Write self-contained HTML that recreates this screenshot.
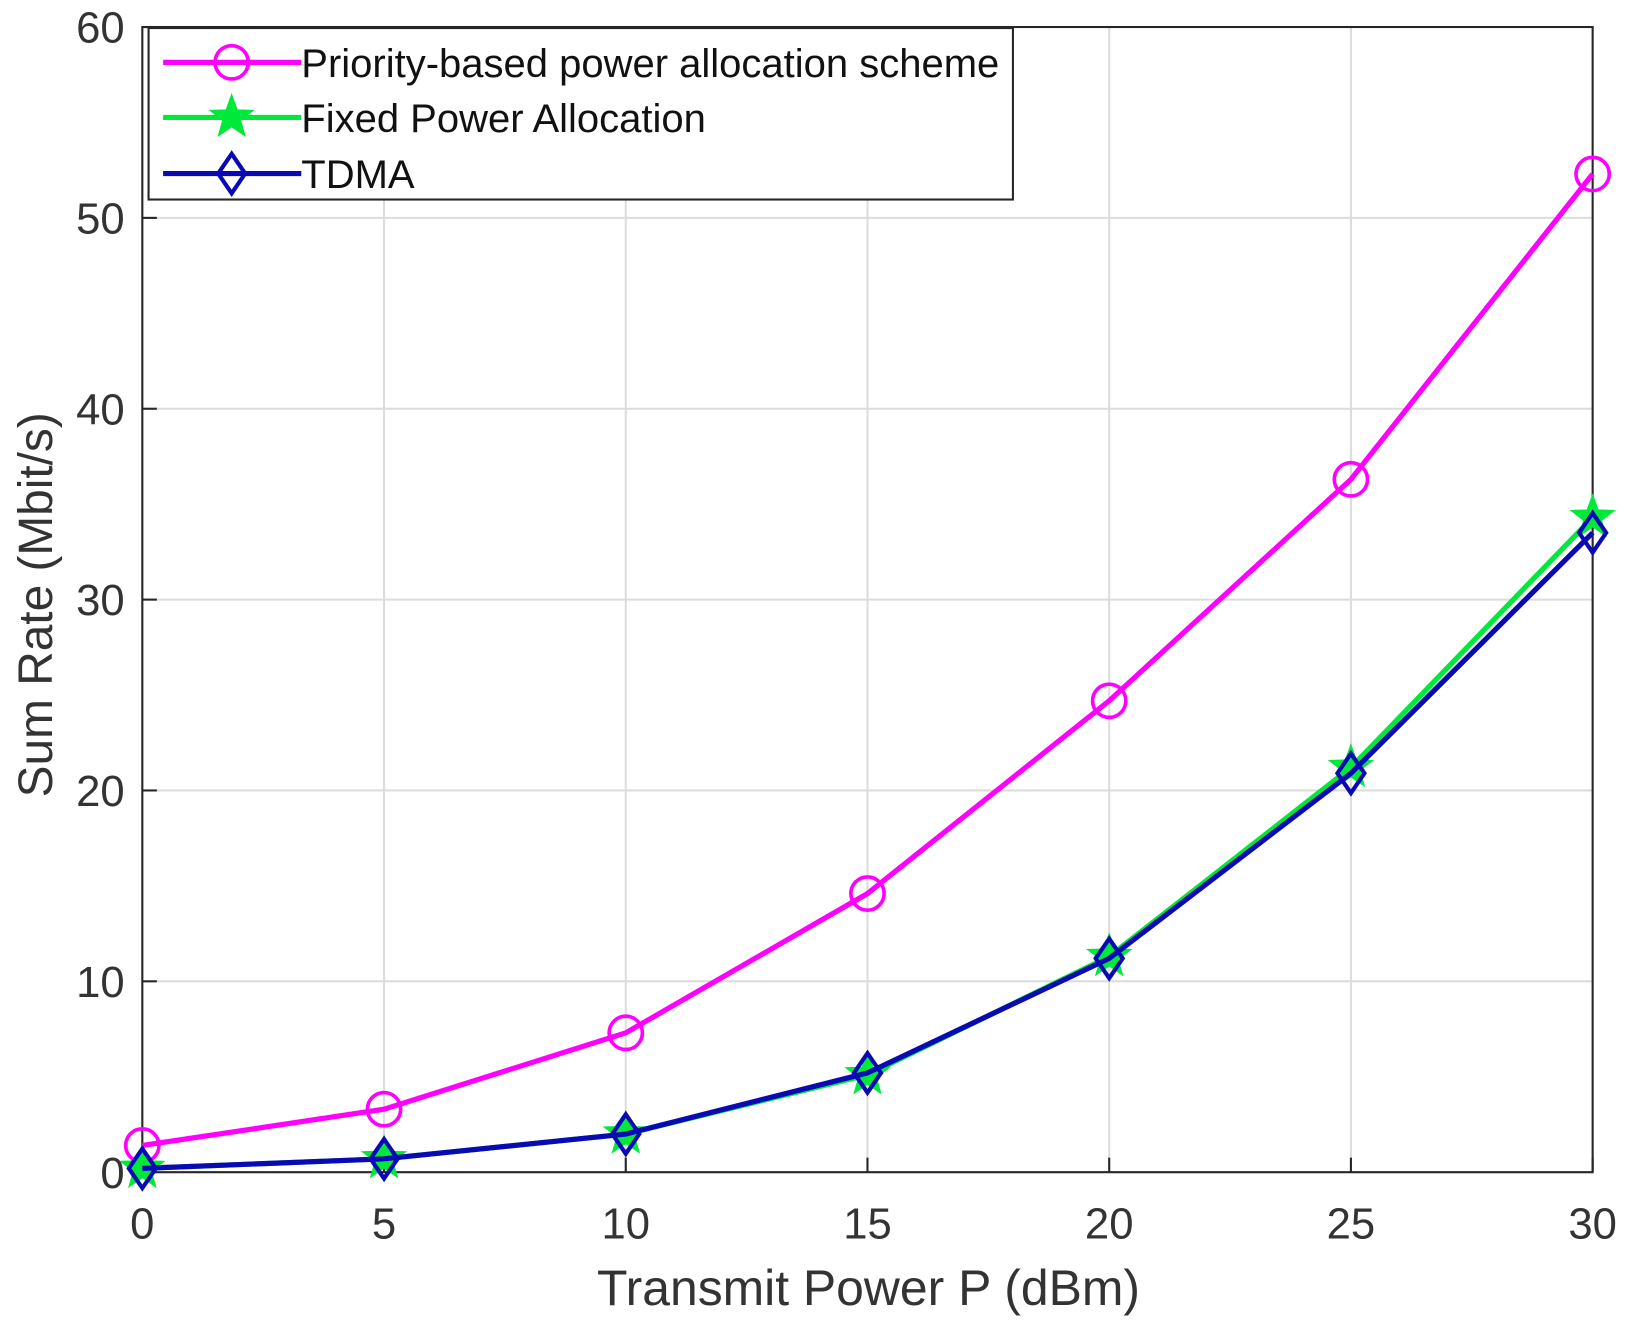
<!DOCTYPE html>
<html><head><meta charset="utf-8"><style>
html,body{margin:0;padding:0;background:#fff;}
svg{display:block;font-family:"Liberation Sans",Arial,sans-serif;}
</style></head><body>
<svg id="chart" width="1629" height="1326" viewBox="0 0 1568 1276" preserveAspectRatio="none" xmlns="http://www.w3.org/2000/svg">
<g id="grid"></g>
<g id="axes"></g>
<g id="series"></g>
<text x="836" y="1256" font-size="48" text-anchor="middle" fill="#333">Transmit Power P (dBm)</text>
<text transform="translate(50,582) rotate(-90)" font-size="46" text-anchor="middle" fill="#333">Sum Rate (Mbit/s)</text>
<g id="legend">
<rect x="143" y="27" width="832" height="165" fill="#fff" stroke="#262626" stroke-width="2"/>
</g>
</svg>
<script>
const xValues=[0,5,10,15,20,25,30];
const priority=[1.4,3.3,7.3,14.6,24.7,36.3,52.3];
const fixedPA=[0.2,0.7,2.0,5.1,11.3,21.2,34.3];
const tdma=[0.2,0.7,2.0,5.2,11.2,20.9,33.5];
const xTicks=[0,5,10,15,20,25,30];
const yTicks=[0,10,20,30,40,50,60];
const seriesNames=["Priority-based power allocation scheme","Fixed Power Allocation","TDMA"];

const NS="http://www.w3.org/2000/svg";
const X0=137,X1=1533,Y0=1128,Y1=26;
const sx=v=>X0+(v-0)/(30-0)*(X1-X0);
const sy=v=>Y0-(v-0)/(60-0)*(Y0-Y1);
function mk(tag,attrs,parent){const e=document.createElementNS(NS,tag);for(const k in attrs)e.setAttribute(k,attrs[k]);parent.appendChild(e);return e;}
const grid=document.getElementById('grid'),axes=document.getElementById('axes'),ser=document.getElementById('series'),leg=document.getElementById('legend');

xTicks.forEach(t=>{
  const l=mk('line',{x1:sx(t),x2:sx(t),y1:Y0,y2:Y1,stroke:'#dcdcdc','stroke-width':2},grid);
  
  
  const tk=mk('line',{x1:sx(t),x2:sx(t),y1:Y0,y2:Y0-14,stroke:'#262626','stroke-width':2},axes);
  
  
  const tx=mk('text',{x:sx(t),y:1192,'font-size':42,'text-anchor':'middle',fill:'#333'},axes);
  tx.textContent=t;
  
  
});
yTicks.forEach(t=>{
  const l=mk('line',{x1:X0,x2:X1,y1:sy(t),y2:sy(t),stroke:'#dcdcdc','stroke-width':2},grid);
  
  
  const tk=mk('line',{x1:X0,x2:X0+14,y1:sy(t),y2:sy(t),stroke:'#262626','stroke-width':2},axes);
  
  
  const tx=mk('text',{x:120,y:sy(t)+15,'font-size':42,'text-anchor':'end',fill:'#333'},axes);
  tx.textContent=t;
  
  
});
const frame=mk('rect',{x:X0,y:Y1,width:X1-X0,height:Y0-Y1,fill:'none',stroke:'#262626','stroke-width':2},axes);



function marker(type,cx,cy,color,parent){
  let e;
  if(type==='o') e=mk('circle',{cx:cx,cy:cy,r:16,fill:'none',stroke:color,'stroke-width':3.5},parent);
  else if(type==='d') e=mk('polygon',{points:`${cx},${cy-19} ${cx+13},${cy} ${cx},${cy+19} ${cx-13},${cy}`,fill:'none',stroke:color,'stroke-width':4},parent);
  else {let p=[];for(let i=0;i<10;i++){const r=i%2?9:22,a=-Math.PI/2+i*Math.PI/5;p.push((cx+r*Math.cos(a)).toFixed(1)+','+(cy+r*Math.sin(a)).toFixed(1));}
    e=mk('polygon',{points:p.join(' '),fill:color,stroke:color,'stroke-width':1},parent);}
  return e;
}
const defs=[[priority,'#ff00ff','o','priority-line','priority-point'],[fixedPA,'#00e83a','s','fixed-line','fixed-point'],[tdma,'#0a0ab4','d','tdma-line','tdma-point']];
defs.forEach(([vals,color,m,ln,pn],si)=>{
  const pts=vals.map((v,i)=>sx(xValues[i])+','+sy(v)).join(' ');
  const pl=mk('polyline',{points:pts,fill:'none',stroke:color,'stroke-width':5},ser);
  
  
  vals.forEach((v,i)=>{
    const e=marker(m,sx(xValues[i]),sy(v),color,ser);
    
    
  });
  const ly=[60,113,167][si];
  const ll=mk('line',{x1:157,x2:290,y1:ly,y2:ly,stroke:color,'stroke-width':5},leg);
  
  
  const lm=marker(m,223,ly,color,leg);
  
  
  const lt=mk('text',{x:290,y:ly+14,'font-size':38.5,fill:'#111'},leg);
  lt.textContent=seriesNames[si];
  
  
});
</script>
</body></html>
